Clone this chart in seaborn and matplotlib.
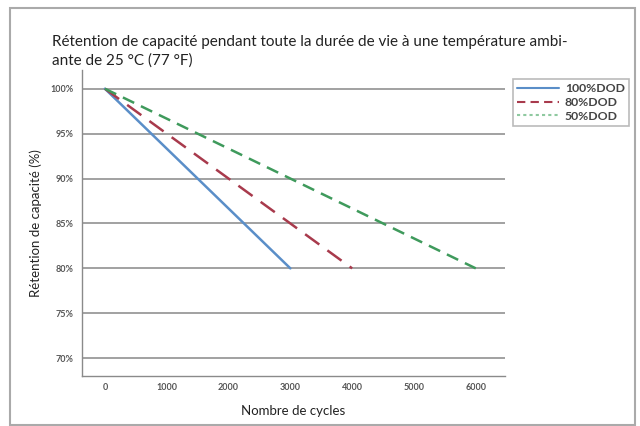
import matplotlib
matplotlib.use("Agg")
import matplotlib.pyplot as plt
import seaborn as sns
import pandas as pd
from matplotlib.patches import Rectangle
from matplotlib.lines import Line2D
from matplotlib.ticker import FuncFormatter

series = ["100%DOD", "80%DOD", "50%DOD"]
start_cycles = [0, 0, 0]
end_cycles = [3000, 4000, 6000]
start_ret = [100, 100, 100]
end_ret = [80, 80, 80]
x_ticks = [0, 1000, 2000, 3000, 4000, 5000, 6000]
y_ticks = [70, 75, 80, 85, 90, 95, 100]

rows = []
for s, c0, c1, r0, r1 in zip(series, start_cycles, end_cycles, start_ret, end_ret):
    rows.append({"serie": s, "cycles": c0, "ret": r0})
    rows.append({"serie": s, "cycles": c1, "ret": r1})
df = pd.DataFrame(rows)

sns.set_theme(style="white")
plt.rcParams['font.family'] = ['Lato', 'DejaVu Sans']

fig = plt.figure(figsize=(6.4, 4.26), dpi=100)
ax = fig.add_axes([0.128, 0.117, 0.661, 0.719])

palette = {"100%DOD": "#5a8ec8", "80%DOD": "#a83a4c", "50%DOD": "#3f9a5c"}
dashes = {"100%DOD": "", "80%DOD": (7, 4), "50%DOD": (5, 3)}

for y in y_ticks:
    ax.axhline(y, color="#9a9a9a", lw=1.3, zorder=1)

sns.lineplot(data=df, x="cycles", y="ret", hue="serie", style="serie",
             palette=palette, dashes=dashes, lw=1.8, ax=ax, zorder=3,
             legend=False)

ax.set_xlim(-372, 6472)
ax.set_ylim(68.0, 102.1)
ax.set_xticks(x_ticks)
ax.set_yticks(y_ticks)
ax.yaxis.set_major_formatter(FuncFormatter(lambda v, p: f"{int(v)}%"))
ax.tick_params(axis="both", labelsize=6.5, colors="#555555", length=0)
ax.tick_params(axis="y", pad=6)
ax.tick_params(axis="x", pad=5)
for lab in ax.get_xticklabels() + ax.get_yticklabels():
    lab.set_fontweight("bold")

for side in ["top", "right"]:
    ax.spines[side].set_visible(False)
for side in ["left", "bottom"]:
    ax.spines[side].set_color("#8a8a8a")
    ax.spines[side].set_linewidth(1.0)

ax.set_xlabel("Nombre de cycles", fontsize=9.5, color="#222222", labelpad=9)
ax.set_ylabel("Rétention de capacité (%)", fontsize=9.5, color="#222222", labelpad=6)

fig.text(0.081, 0.901, "Rétention de capacité pendant toute la durée de vie à une température ambi-",
         fontsize=11, color="#222222", va="center")
fig.text(0.081, 0.859, "ante de 25 °C (77 °F)", fontsize=11, color="#222222", va="center")

handles = [
    Line2D([], [], color=palette["100%DOD"], lw=1.5),
    Line2D([], [], color=palette["80%DOD"], lw=1.5, dashes=(4, 2.5)),
    Line2D([], [], color="#8fc9a0", lw=1.5, dashes=(1.5, 1.5)),
]
leg = fig.legend(handles, series, loc="upper left", bbox_to_anchor=(0.792, 0.829),
                 fontsize=8.8, frameon=True, fancybox=False, handlelength=3.4,
                 borderpad=0.35, labelspacing=0.22, handletextpad=0.5)
leg.get_frame().set_edgecolor("#aaaaaa")
leg.get_frame().set_linewidth(1.2)
for t in leg.get_texts():
    t.set_color("#444444")
    t.set_fontweight("bold")

fig.patches.append(Rectangle((0.0158, 0.003), 0.976, 0.978, transform=fig.transFigure,
                             fill=False, edgecolor="#aaaaaa", lw=1.5))

fig.savefig("out.png", dpi=100)
